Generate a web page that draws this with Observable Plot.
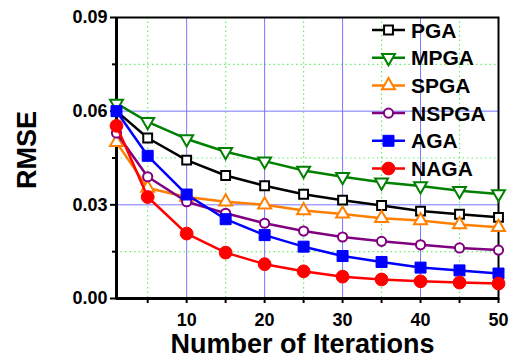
<!DOCTYPE html>
<html>
<head>
<meta charset="utf-8">
<script src="https://cdn.jsdelivr.net/npm/d3@7"></script>
<script src="https://cdn.jsdelivr.net/npm/@observablehq/plot@0.6"></script>
<style>
  html, body { margin: 0; padding: 0; background: #fff; }
  #chart { width: 511px; height: 360px; }
</style>
</head>
<body>
<div id="chart"></div>
<script>
// ---- Data ----
const iterations = [1, 5, 10, 15, 20, 25, 30, 35, 40, 45, 50];
const seriesNames = ["PGA", "MPGA", "SPGA", "NSPGA", "AGA", "NAGA"];
const PGA   = [0.0600, 0.0514, 0.0443, 0.0394, 0.0361, 0.0334, 0.0315, 0.0298, 0.0280, 0.0270, 0.0260];
const MPGA  = [0.0625, 0.0566, 0.0511, 0.0470, 0.0440, 0.0410, 0.0390, 0.0372, 0.0360, 0.0345, 0.0335];
const SPGA  = [0.0500, 0.0354, 0.0325, 0.0310, 0.0300, 0.0282, 0.0271, 0.0257, 0.0250, 0.0237, 0.0228];
const NSPGA = [0.0530, 0.0390, 0.0310, 0.0273, 0.0241, 0.0216, 0.0197, 0.0183, 0.0172, 0.0162, 0.0155];
const AGA   = [0.0600, 0.0457, 0.0333, 0.0254, 0.0203, 0.0166, 0.0136, 0.0117, 0.0099, 0.0090, 0.0080];
const NAGA  = [0.0553, 0.0325, 0.0208, 0.0147, 0.0110, 0.0087, 0.0070, 0.0061, 0.0055, 0.0051, 0.0048];
const yTicks = [0, 0.03, 0.06, 0.09];
const yMinorTicks = [0.015, 0.045, 0.075];
const xTicks = [10, 20, 30, 40, 50];
const xMinorTicks = [5, 15, 25, 35, 45];
const xAllTicks = [5, 10, 15, 20, 25, 30, 35, 40, 45, 50];
const xLabel = "Number of Iterations";
const yLabel = "RMSE";

// ---- Styles ----
const values = [PGA, MPGA, SPGA, NSPGA, AGA, NAGA];
const styles = [
  {color: "#000000", symbol: "square",   r: 5.0, filled: false, rotate: 0},
  {color: "#008000", symbol: "triangle", r: 4.8, filled: false, rotate: 180},
  {color: "#ff8000", symbol: "triangle", r: 4.8, filled: false, rotate: 0},
  {color: "#800080", symbol: "circle",   r: 4.6, filled: false, rotate: 0},
  {color: "#0000ff", symbol: "square",   r: 6.2, filled: true,  rotate: 0},
  {color: "#ff0000", symbol: "circle",   r: 6.4, filled: true,  rotate: 0}
];

const W = 511, H = 360;
const mL = 116, mR = 13, mT = 17, mB = 62;

const seriesMarks = [];
seriesNames.forEach((name, i) => {
  const rows = iterations.map((x, j) => ({series: name, x, y: values[i][j]}));
  const s = styles[i];
  seriesMarks.push(Plot.line(rows, {x: "x", y: "y", stroke: s.color, strokeWidth: 2.5}));
  seriesMarks.push(Plot.dot(rows, {
    x: "x", y: "y", symbol: s.symbol, r: s.r, rotate: s.rotate,
    fill: s.filled ? s.color : "white", stroke: s.color, strokeWidth: s.filled ? 1 : 2
  }));
});

const plot = Plot.plot({
  width: W, height: H,
  marginLeft: mL, marginRight: mR, marginTop: mT, marginBottom: mB,
  style: {fontFamily: "'Liberation Sans', Arial, sans-serif", fontWeight: "bold", color: "black", background: "white"},
  x: {domain: [1, 50]},
  y: {domain: [0, 0.09]},
  marks: [
    // grid
    Plot.ruleX(xMinorTicks, {stroke: "#66ee66", strokeWidth: 1.2, strokeDasharray: "1.5,3"}),
    Plot.ruleY(yMinorTicks, {stroke: "#66ee66", strokeWidth: 1.2, strokeDasharray: "1.5,3"}),
    Plot.ruleX(xTicks.slice(0, 4), {stroke: "#7777ff", strokeWidth: 1}),
    Plot.ruleY(yTicks.slice(1, 3), {stroke: "#7777ff", strokeWidth: 1}),
    // axes
    Plot.axisY(yTicks, {tickSize: 6, tickPadding: 3, tickFormat: d3.format(".2f"), fontSize: 18, fontWeight: "bold", strokeWidth: 2, label: null}),
    Plot.axisY(yMinorTicks, {tickSize: 4, tickFormat: () => "", strokeWidth: 2, label: null}),
    Plot.axisX(xAllTicks, {tickSize: 5, tickFormat: () => "", strokeWidth: 2, label: null}),
    Plot.axisX(xTicks, {tickSize: 0, tickPadding: 15, fontSize: 18, fontWeight: "bold", label: null}),
    // frame
    Plot.frame({stroke: "black", strokeWidth: 2}),
    Plot.ruleX([1], {stroke: "black", strokeWidth: 3}),
    Plot.ruleY([0], {stroke: "black", strokeWidth: 3}),
    // series
    ...seriesMarks,
    // titles
    Plot.text([yLabel], {frameAnchor: "left", rotate: -90, dx: -89, dy: -8, fontSize: 27, fontWeight: "bold", lineAnchor: "middle", textAnchor: "middle"}),
    Plot.text([xLabel], {frameAnchor: "bottom", dy: 46, dx: -5, fontSize: 27, fontWeight: "bold", lineAnchor: "middle", textAnchor: "middle"})
  ]
});

// ---- Legend (inside plot, top-right) ----
const svg = d3.select(plot);
const lg = svg.append("g").attr("class", "legend").attr("text-anchor", "start");
const lx0 = W - mR - 126, lx1 = lx0 + 33, lxm = (lx0 + lx1) / 2, ltx = lx1 + 6;
const symbolMap = {square: d3.symbolSquare, triangle: d3.symbolTriangle, circle: d3.symbolCircle};
seriesNames.forEach((name, i) => {
  const s = styles[i];
  const y = mT + 13 + i * 27.7;
  lg.append("line").attr("x1", lx0).attr("x2", lx1).attr("y1", y).attr("y2", y)
    .attr("stroke", s.color).attr("stroke-width", 2.5);
  lg.append("path")
    .attr("d", d3.symbol(symbolMap[s.symbol], Math.PI * s.r * s.r)())
    .attr("transform", `translate(${lxm},${y}) rotate(${s.rotate})`)
    .attr("fill", s.filled ? s.color : "white")
    .attr("stroke", s.color).attr("stroke-width", s.filled ? 1 : 2);
  lg.append("text").attr("x", ltx).attr("y", y).attr("dy", "0.36em")
    .attr("text-anchor", "start")
    .attr("font-size", 21).attr("font-weight", "bold").attr("fill", "black")
    .text(name);
});

document.getElementById("chart").appendChild(plot);
</script>
</body>
</html>
